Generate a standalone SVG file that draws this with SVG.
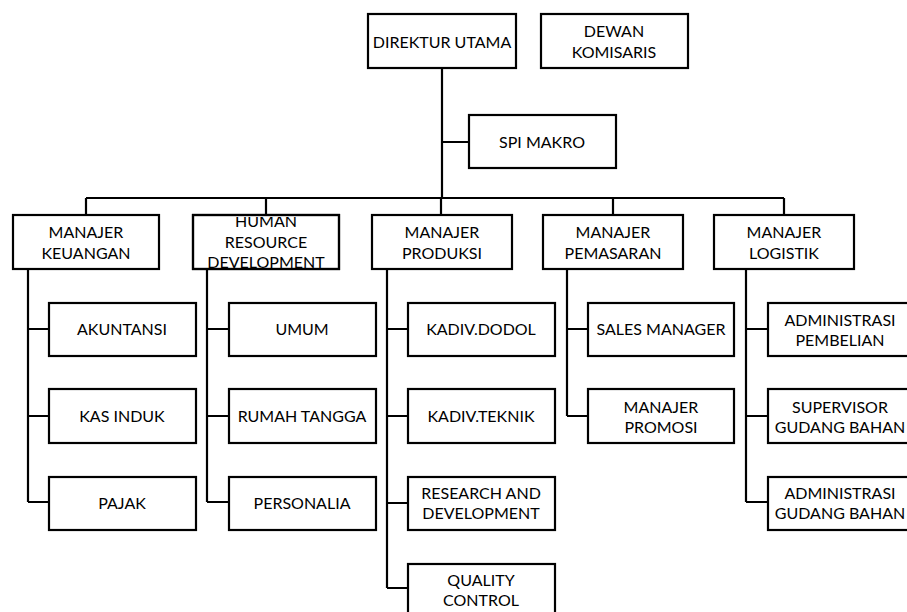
<svg xmlns="http://www.w3.org/2000/svg" width="907" height="612" viewBox="0 0 907 612">
<style>
.box{fill:#fff;stroke:#000;stroke-width:2.2}
.ln{fill:none;stroke:#000;stroke-width:2.2}
text{font-family:Lato,"Liberation Sans",sans-serif;font-size:16px;fill:#000;text-anchor:middle}
</style>
<defs>
<clipPath id="hrdClip"><rect x="193" y="217" width="146" height="58"/></clipPath>
</defs>
<rect width="907" height="612" fill="#fff"/>
<g id="connectors">
<path class="ln" d="M442 68V198M442 142H469M86 198H784M86 198V215M266 198V215M441 198V215M613 198V215M784 198V215"/>
<path class="ln" d="M28 269V502M28 329H49M28 416H49M28 502H49"/>
<path class="ln" d="M207 269V502M207 329H229M207 416H229M207 502H229"/>
<path class="ln" d="M387 269V588M387 329H408M387 416H408M387 503H408M387 588H408"/>
<path class="ln" d="M567 269V416M567 329H588M567 416H588"/>
<path class="ln" d="M746 269V502M746 329H768M746 416H768M746 502H768"/>
</g>
<g id="direktur"><rect class="box" x="368" y="14" width="148" height="54"/><text x="442" y="48">DIREKTUR UTAMA</text></g>
<g id="dewan"><rect class="box" x="541" y="14" width="147" height="54"/><text x="614" y="37">DEWAN</text><text x="614" y="58">KOMISARIS</text></g>
<g id="spi"><rect class="box" x="469" y="115" width="147" height="53"/><text x="542" y="148">SPI MAKRO</text></g>
<g id="keuangan"><rect class="box" x="13" y="215" width="146" height="54"/><text x="86" y="238">MANAJER</text><text x="86" y="259">KEUANGAN</text></g>
<g id="hrd"><rect class="box" x="193" y="215" width="146" height="54"/><g clip-path="url(#hrdClip)"><text x="266" y="227">HUMAN</text><text x="266" y="248">RESOURCE</text><text x="266" y="268">DEVELOPMENT</text></g><rect x="193" y="215" width="146" height="54" fill="none" stroke="#000" stroke-width="2.2"/></g>
<g id="produksi"><rect class="box" x="372" y="215" width="140" height="54"/><text x="442" y="238">MANAJER</text><text x="442" y="259">PRODUKSI</text></g>
<g id="pemasaran"><rect class="box" x="543" y="215" width="140" height="54"/><text x="613" y="238">MANAJER</text><text x="613" y="259">PEMASARAN</text></g>
<g id="logistik"><rect class="box" x="714" y="215" width="140" height="54"/><text x="784" y="238">MANAJER</text><text x="784" y="259">LOGISTIK</text></g>
<g id="akuntansi"><rect class="box" x="49" y="303" width="147" height="53"/><text x="122" y="335">AKUNTANSI</text></g>
<g id="kasinduk"><rect class="box" x="49" y="389" width="147" height="54"/><text x="122" y="422">KAS INDUK</text></g>
<g id="pajak"><rect class="box" x="49" y="477" width="147" height="53"/><text x="122" y="509">PAJAK</text></g>
<g id="umum"><rect class="box" x="229" y="303" width="147" height="53"/><text x="302" y="335">UMUM</text></g>
<g id="rumahtangga"><rect class="box" x="229" y="389" width="147" height="54"/><text x="302" y="422">RUMAH TANGGA</text></g>
<g id="personalia"><rect class="box" x="229" y="477" width="147" height="53"/><text x="302" y="509">PERSONALIA</text></g>
<g id="dodol"><rect class="box" x="408" y="303" width="147" height="53"/><text x="481" y="335">KADIV.DODOL</text></g>
<g id="teknik"><rect class="box" x="408" y="389" width="147" height="54"/><text x="481" y="422">KADIV.TEKNIK</text></g>
<g id="rnd"><rect class="box" x="408" y="477" width="147" height="53"/><text x="481" y="499">RESEARCH AND</text><text x="481" y="519">DEVELOPMENT</text></g>
<g id="qc"><rect class="box" x="408" y="564" width="147" height="54"/><text x="481" y="586">QUALITY</text><text x="481" y="606">CONTROL</text></g>
<g id="sales"><rect class="box" x="588" y="303" width="146" height="53"/><text x="661" y="335">SALES MANAGER</text></g>
<g id="promosi"><rect class="box" x="588" y="389" width="146" height="54"/><text x="661" y="413">MANAJER</text><text x="661" y="433">PROMOSI</text></g>
<g id="admpembelian"><rect class="box" x="768" y="303" width="146" height="53"/><text x="840" y="326">ADMINISTRASI</text><text x="840" y="346">PEMBELIAN</text></g>
<g id="supervisor"><rect class="box" x="768" y="389" width="146" height="54"/><text x="840" y="413">SUPERVISOR</text><text x="840" y="433">GUDANG BAHAN</text></g>
<g id="admgudang"><rect class="box" x="768" y="477" width="146" height="53"/><text x="840" y="499">ADMINISTRASI</text><text x="840" y="519">GUDANG BAHAN</text></g>
</svg>
